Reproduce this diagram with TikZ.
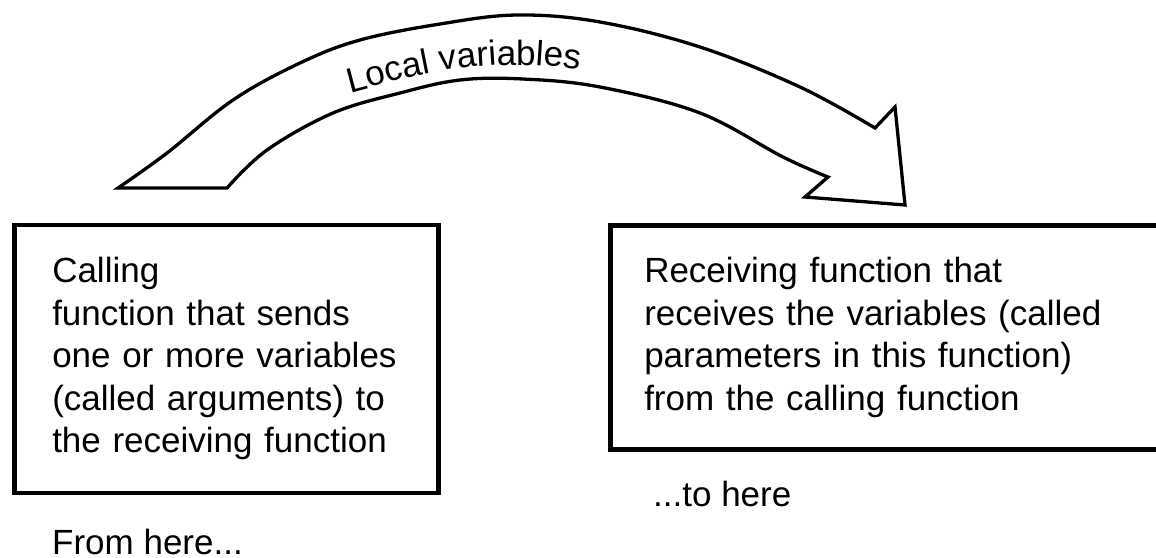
\documentclass[tikz,border=0pt]{standalone}
\usepackage{fontspec}
\setmainfont{Liberation Sans}
\usetikzlibrary{decorations.text}
\newcommand\boxfont{\fontsize{35}{42.5}\selectfont}
\newcommand\lvfont{\fontsize{35}{40}\selectfont}
\tikzset{
	funcbox/.style={draw, line width=4.5pt, rectangle, anchor=north west, align=left, inner ysep=0pt, font=\boxfont},
	arrowline/.style={line width=3.3pt, line join=miter},
	herelabel/.style={anchor=base west, inner sep=0pt, font=\boxfont}
}

\begin{document}
\begin{tikzpicture}[x=1pt, y=-1pt]
			%%%%% START %%%%%
			\useasboundingbox (0, 0) rectangle (1156, 557);
			\begin{scope}
			\clip (0, 0) rectangle (1156, 557);
			
			% big bent arrow
			\draw[arrowline] plot[smooth, tension=0.6] coordinates {(118, 188) (167, 153) (233, 100) (300, 63) (360, 40) (440, 24) (517, 15) (600, 22) (700, 47) (800, 87) (875, 128)}
				-- (895, 107) -- (905, 205) -- (805, 197)
				-- plot[smooth, tension=0.6] coordinates {(828, 177) (783, 157) (700, 113) (600, 87) (523, 79) (460, 80) (400, 93) (333, 113) (267, 150) (227, 188)}
				-- cycle;
			\path[decorate, decoration={text along path, text={|\lvfont|Local variables}}]
				(350, 93) -- (380, 85) -- (410, 77) -- (440, 71) -- (470, 67) -- (500, 65) -- (530, 65) -- (560, 67) -- (600, 72);
			
			% the two functions
			\node[funcbox, inner xsep=38pt, text width=348pt, minimum width=424pt, minimum height=268pt] (caller) at (12, 222.5)
				{Calling\\function that sends\\one or more variables\\(called arguments) to\\the receiving function};
			\node[funcbox, inner xsep=34pt, text width=500pt, minimum width=568pt, minimum height=224pt] (receiver) at (608, 223)
				{Receiving function that\\receives the variables (called\\parameters in this function)\\from the calling function};
			
			\node[herelabel] (fromhere) at (52, 554) {From here...};
			\node[herelabel] (tohere) at (653, 506) {...to here};
			\end{scope}
			%%%%% END %%%%%
\end{tikzpicture}
\end{document}
